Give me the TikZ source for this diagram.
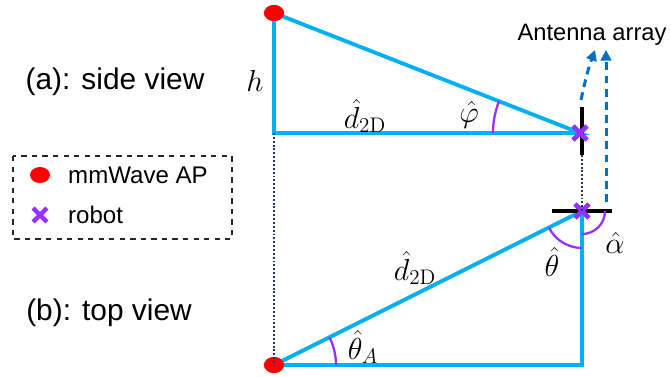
\documentclass[tikz,border=0pt]{standalone}
\usepackage[no-math]{fontspec}
\setmainfont{Liberation Sans}
\usetikzlibrary{shapes.geometric,shapes.misc,arrows.meta}

\definecolor{linkblue}{RGB}{0,176,240}
\definecolor{arcviolet}{RGB}{150,50,255}
\definecolor{arrayblue}{RGB}{0,112,192}
\definecolor{dotnavy}{RGB}{31,56,100}

\begin{document}
\begin{tikzpicture}[x=0.02cm, y=0.02cm,
  every node/.style={font=\fontsize{17}{20}\selectfont},
  link/.style={draw=linkblue, line width=2.2pt},
  anglearc/.style={draw=arcviolet, line width=1.3pt},
  proj/.style={draw=dotnavy, line width=1.4pt, dash pattern=on 1.1pt off 1.1pt},
  arraydir/.style={draw=arrayblue, line width=1.7pt, dash pattern=on 4.5pt off 3pt,
    -{Triangle[length=6pt,width=6pt]}},
  apdot/.style={ellipse, fill=red, minimum width=0.4cm, minimum height=0.32cm, inner sep=0},
  robot/.style={cross out, draw=arcviolet, line width=2.5pt, minimum size=0.19cm, inner sep=0},
  mathlbl/.style={font=\fontsize{18.5}{22}\selectfont},
  legendtxt/.style={anchor=west, font=\fontsize{13.7}{16}\selectfont}]
\useasboundingbox (0,0) rectangle (671,376);

% Side view
\coordinate (C1) at (274,243);   % foot below the AP
\coordinate (B1t) at (582,269);  % antenna bar, top
\coordinate (B1b) at (582,221);  % antenna bar, bottom
\node[apdot] (AP1) at (274,363) {};
\node[robot] (R1) at (580,243) {};

% Top view
\coordinate (C2) at (582,11);    % right-angle corner
\coordinate (B2l) at (552,165);  % antenna bar, left
\coordinate (B2r) at (612,165);  % antenna bar, right
\node[apdot] (AP2) at (274,11) {};
\node[robot] (R2) at (582,165) {};

% Triangles
\draw[link] (AP1.center) -- (C1) -- (R1.center) -- cycle;
\draw[link] (AP2.center) -- (C2) -- (R2.center) -- cycle;
\node[apdot] at (AP1) {};
\node[apdot] at (AP2) {};

% Antenna bars
\draw[line width=1.8pt] (B1b) -- (B1t);
\draw[line width=1.8pt] (B2l) -- (B2r);
\node[robot] at (R1) {};
\node[robot] at (R2) {};

% Projection lines
\draw[proj] (C1) -- (AP2.center);
\draw[proj] (B1b) -- (R2.center);

% Array directions
\coordinate (A1s) at (581,276);
\coordinate (A1e) at (595,326);
\coordinate (A2s) at (606,174);
\coordinate (A2e) at (606,326);
\draw[arraydir] (A1s) to[out=78,in=250] (A1e);
\draw[arraydir] (A2s) -- (A2e);
\node (antenna) at (592,341) {\fontsize{13.5}{16}\selectfont Antenna array};

% Angles
\draw[anglearc] ([shift={(180:87)}]R1.center) arc (180:158.6:87);
\draw[anglearc] ([shift={(206.6:37)}]R2.center) arc (206.6:270:37);
\draw[anglearc] ([shift={(0:23)}]R2.center) arc (0:-90:23);
\draw[anglearc] ([shift={(0:62)}]AP2.center) arc (0:26.6:62);

% Math labels
\node[mathlbl] (hlbl) at (255,295) {$h$};
\node[mathlbl] (dside) at (365,260) {$\hat{d}_{2\mathrm{D}}$};
\node[mathlbl] (philbl) at (469,261) {$\hat{\varphi}$};
\node[mathlbl] (dtop) at (415,108) {$\hat{d}_{2\mathrm{D}}$};
\node[mathlbl] (thetalbl) at (552,114) {$\hat{\theta}$};
\node[mathlbl] (alphalbl) at (615,133) {$\hat{\alpha}$};
\node[mathlbl] (thetaAlbl) at (363,29) {$\hat{\theta}_A$};

% View titles
\node (sideview) at (115,294) {(a): side view};
\node (topview) at (109,63) {(b): top view};

% Legend
\draw[line width=1.1pt, dashed, black!85] (13,220) rectangle (232,137);
\node[apdot] (legap) at (40,201) {};
\node[legendtxt] (legaptxt) at (62,201) {mmWave AP};
\node[robot] (legrobot) at (40,161) {};
\node[legendtxt] (legrobottxt) at (62,161) {robot};
\end{tikzpicture}
\end{document}
